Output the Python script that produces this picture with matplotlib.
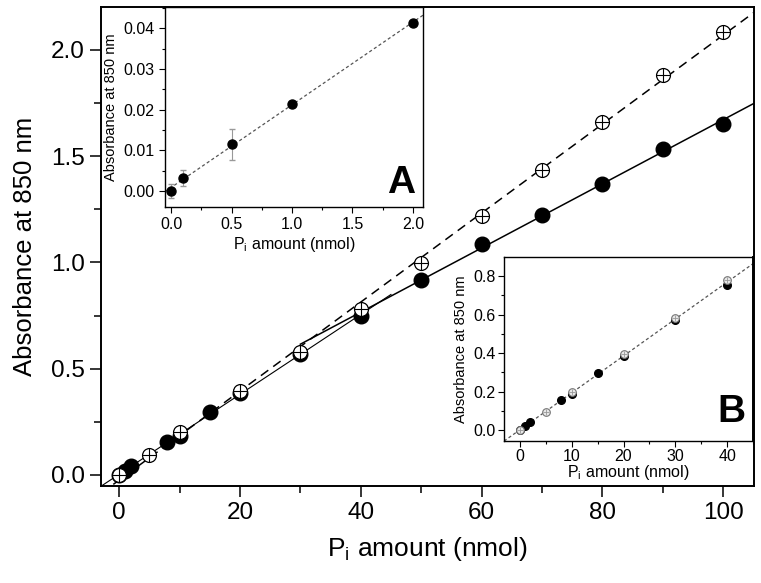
import numpy as np
import matplotlib
matplotlib.use("Agg")
import matplotlib.pyplot as plt
from matplotlib.ticker import MultipleLocator

plt.rcParams['font.family'] = ['Liberation Sans', 'DejaVu Sans']
plt.rcParams['mathtext.fontset'] = 'custom'
plt.rcParams['mathtext.rm'] = 'Liberation Sans'

# ---- main data ----
filled_x = [0, 1, 2, 8, 10, 15, 20, 30, 40, 50, 60, 70, 80, 90, 100]
filled_y = [0.0, 0.02, 0.04, 0.155, 0.185, 0.295, 0.385, 0.57, 0.748, 0.918, 1.087, 1.224, 1.369, 1.534, 1.652]
open_x = [0, 5, 10, 20, 30, 40, 50, 60, 70, 80, 90, 100]
open_y = [0.0, 0.095, 0.20, 0.395, 0.58, 0.781, 0.998, 1.219, 1.435, 1.661, 1.882, 2.085]

# ---- inset A data ----
a_x = [0.0, 0.1, 0.5, 1.0, 2.0]
a_y = [0.0, 0.0033, 0.0115, 0.0215, 0.0412]
a_err = [0.0018, 0.002, 0.0038, 0.0004, 0.0004]

# ---- inset B data ----
b_filled_x = [0, 1, 2, 8, 10, 15, 20, 30, 40]
b_filled_y = [0.0, 0.02, 0.04, 0.155, 0.185, 0.295, 0.385, 0.57, 0.755]
b_open_x = [0, 5, 10, 20, 30, 40]
b_open_y = [0.0, 0.095, 0.20, 0.395, 0.58, 0.778]

xlabel = r'P$_\mathregular{i}$ amount (nmol)'
ylabel = 'Absorbance at 850 nm'

fig = plt.figure(figsize=(7.61, 5.83), dpi=100)
ax = fig.add_axes([101/761, 1-486/583, (754-101)/761, (486-7)/583])

fx = np.array(filled_x); fy = np.array(filled_y)
ox = np.array(open_x); oy = np.array(open_y)

# fits
p_open = np.polyfit(ox, oy, 1)
hi = fx >= 40
p_fhi = np.polyfit(fx[hi], fy[hi], 1)
lo = fx <= 40
p_flo = np.polyfit(fx[lo], fy[lo], 1)

xx = np.linspace(-3, 105, 50)
ax.plot(xx, np.polyval(p_open, xx), color='black', lw=1.1, ls=(0, (6, 4)), zorder=2)
xx2 = np.linspace(30, 105, 50)
ax.plot(xx2, np.polyval(p_fhi, xx2), color='black', lw=1.1, zorder=2)
xx3 = np.linspace(-3, 45, 50)
ax.plot(xx3, np.polyval(p_flo, xx3), color='black', lw=0.8, zorder=2)

ax.plot(fx, fy, 'o', color='black', ms=10.5, zorder=3)
ax.plot(ox, oy, 'o', mfc='white', mec='black', mew=0.9, ms=10, zorder=4)
ax.plot(ox, oy, '+', color='black', mew=0.8, ms=10, zorder=5)

ax.set_xlim(-3, 105.1)
ax.set_ylim(-0.052, 2.202)
ax.xaxis.set_major_locator(MultipleLocator(20))
ax.xaxis.set_minor_locator(MultipleLocator(10))
ax.yaxis.set_major_locator(MultipleLocator(0.5))
ax.yaxis.set_minor_locator(MultipleLocator(0.25))
ax.yaxis.set_major_formatter(plt.FuncFormatter(lambda v, p: f'{v:.1f}'))
ax.tick_params(which='major', direction='out', length=8, width=1.1, labelsize=17.5, top=False, right=False)
ax.tick_params(which='minor', direction='out', length=5, width=1.1, top=False, right=False)
for s in ax.spines.values():
    s.set_linewidth(1.4)
ax.set_xlabel(xlabel, fontsize=19, labelpad=8)
ax.set_ylabel(ylabel, fontsize=18.5, labelpad=10)

# ---- inset A ----
axA = fig.add_axes([165/761, 1-207/583, (423-165)/761, 200/583])
axA.plot([-0.05, 2.083], np.polyval(np.polyfit(a_x, a_y, 1), [-0.05, 2.083]),
         color='#555555', lw=0.9, ls=(0, (2.5, 2)), zorder=2)
axA.errorbar(a_x, a_y, yerr=a_err, fmt='none', ecolor='#999999', elinewidth=0.8, capsize=2, zorder=3)
axA.plot(a_x, a_y, 'o', color='black', ms=6.5, zorder=4)
axA.set_xlim(-0.05, 2.083)
axA.set_ylim(-0.0039, 0.0452)
axA.xaxis.set_major_locator(MultipleLocator(0.5))
axA.xaxis.set_minor_locator(MultipleLocator(0.25))
axA.yaxis.set_major_locator(MultipleLocator(0.01))
axA.yaxis.set_minor_locator(MultipleLocator(0.005))
axA.yaxis.set_major_formatter(plt.FuncFormatter(lambda v, p: f'{v:.2f}'))
axA.xaxis.set_major_formatter(plt.FuncFormatter(lambda v, p: f'{v:.1f}'))
axA.tick_params(which='major', direction='out', length=4, width=0.8, labelsize=11.5)
axA.tick_params(which='minor', direction='out', length=2.5, width=0.8)
for s in axA.spines.values():
    s.set_linewidth(1.0)
axA.set_xlabel(xlabel, fontsize=11.5, labelpad=2)
axA.set_ylabel(ylabel, fontsize=10.5, labelpad=4)
axA.text(0.97, 0.03, 'A', transform=axA.transAxes, ha='right', va='bottom',
         fontsize=28, fontweight='bold')

# ---- inset B ----
axB = fig.add_axes([504/761, 1-441/583, (753-504)/761, 184/583])
bx_all = np.array(b_filled_x + b_open_x); by_all = np.array(b_filled_y + b_open_y)
pb = np.polyfit(bx_all, by_all, 1)
axB.plot([-3.09, 45], np.polyval(pb, [-3.09, 45]), color='#555555', lw=0.9,
         ls=(0, (2.5, 2)), zorder=2)
axB.plot(b_filled_x, b_filled_y, 'o', color='black', ms=5.5, zorder=3)
axB.plot(b_open_x, b_open_y, 'o', mfc='#e8e8e8', mec='#777777', mew=0.8, ms=5.5, zorder=4)
axB.plot(b_open_x, b_open_y, '+', color='#999999', mew=0.6, ms=5, zorder=5)
axB.set_xlim(-3.09, 45.0)
axB.set_ylim(-0.057, 0.899)
axB.xaxis.set_major_locator(MultipleLocator(10))
axB.xaxis.set_minor_locator(MultipleLocator(5))
axB.yaxis.set_major_locator(MultipleLocator(0.2))
axB.yaxis.set_minor_locator(MultipleLocator(0.1))
axB.yaxis.set_major_formatter(plt.FuncFormatter(lambda v, p: f'{v:.1f}'))
axB.tick_params(which='major', direction='out', length=4, width=0.8, labelsize=11.5, pad=2)
axB.tick_params(which='minor', direction='out', length=2.5, width=0.8)
for s in axB.spines.values():
    s.set_linewidth(1.0)
axB.spines['right'].set_linewidth(1.4)
axB.set_xlabel(xlabel, fontsize=11.5, labelpad=-1)
axB.set_ylabel(ylabel, fontsize=10.5, labelpad=4)
axB.text(0.97, 0.06, 'B', transform=axB.transAxes, ha='right', va='bottom',
         fontsize=28, fontweight='bold')

fig.savefig('out.png', dpi=100)
